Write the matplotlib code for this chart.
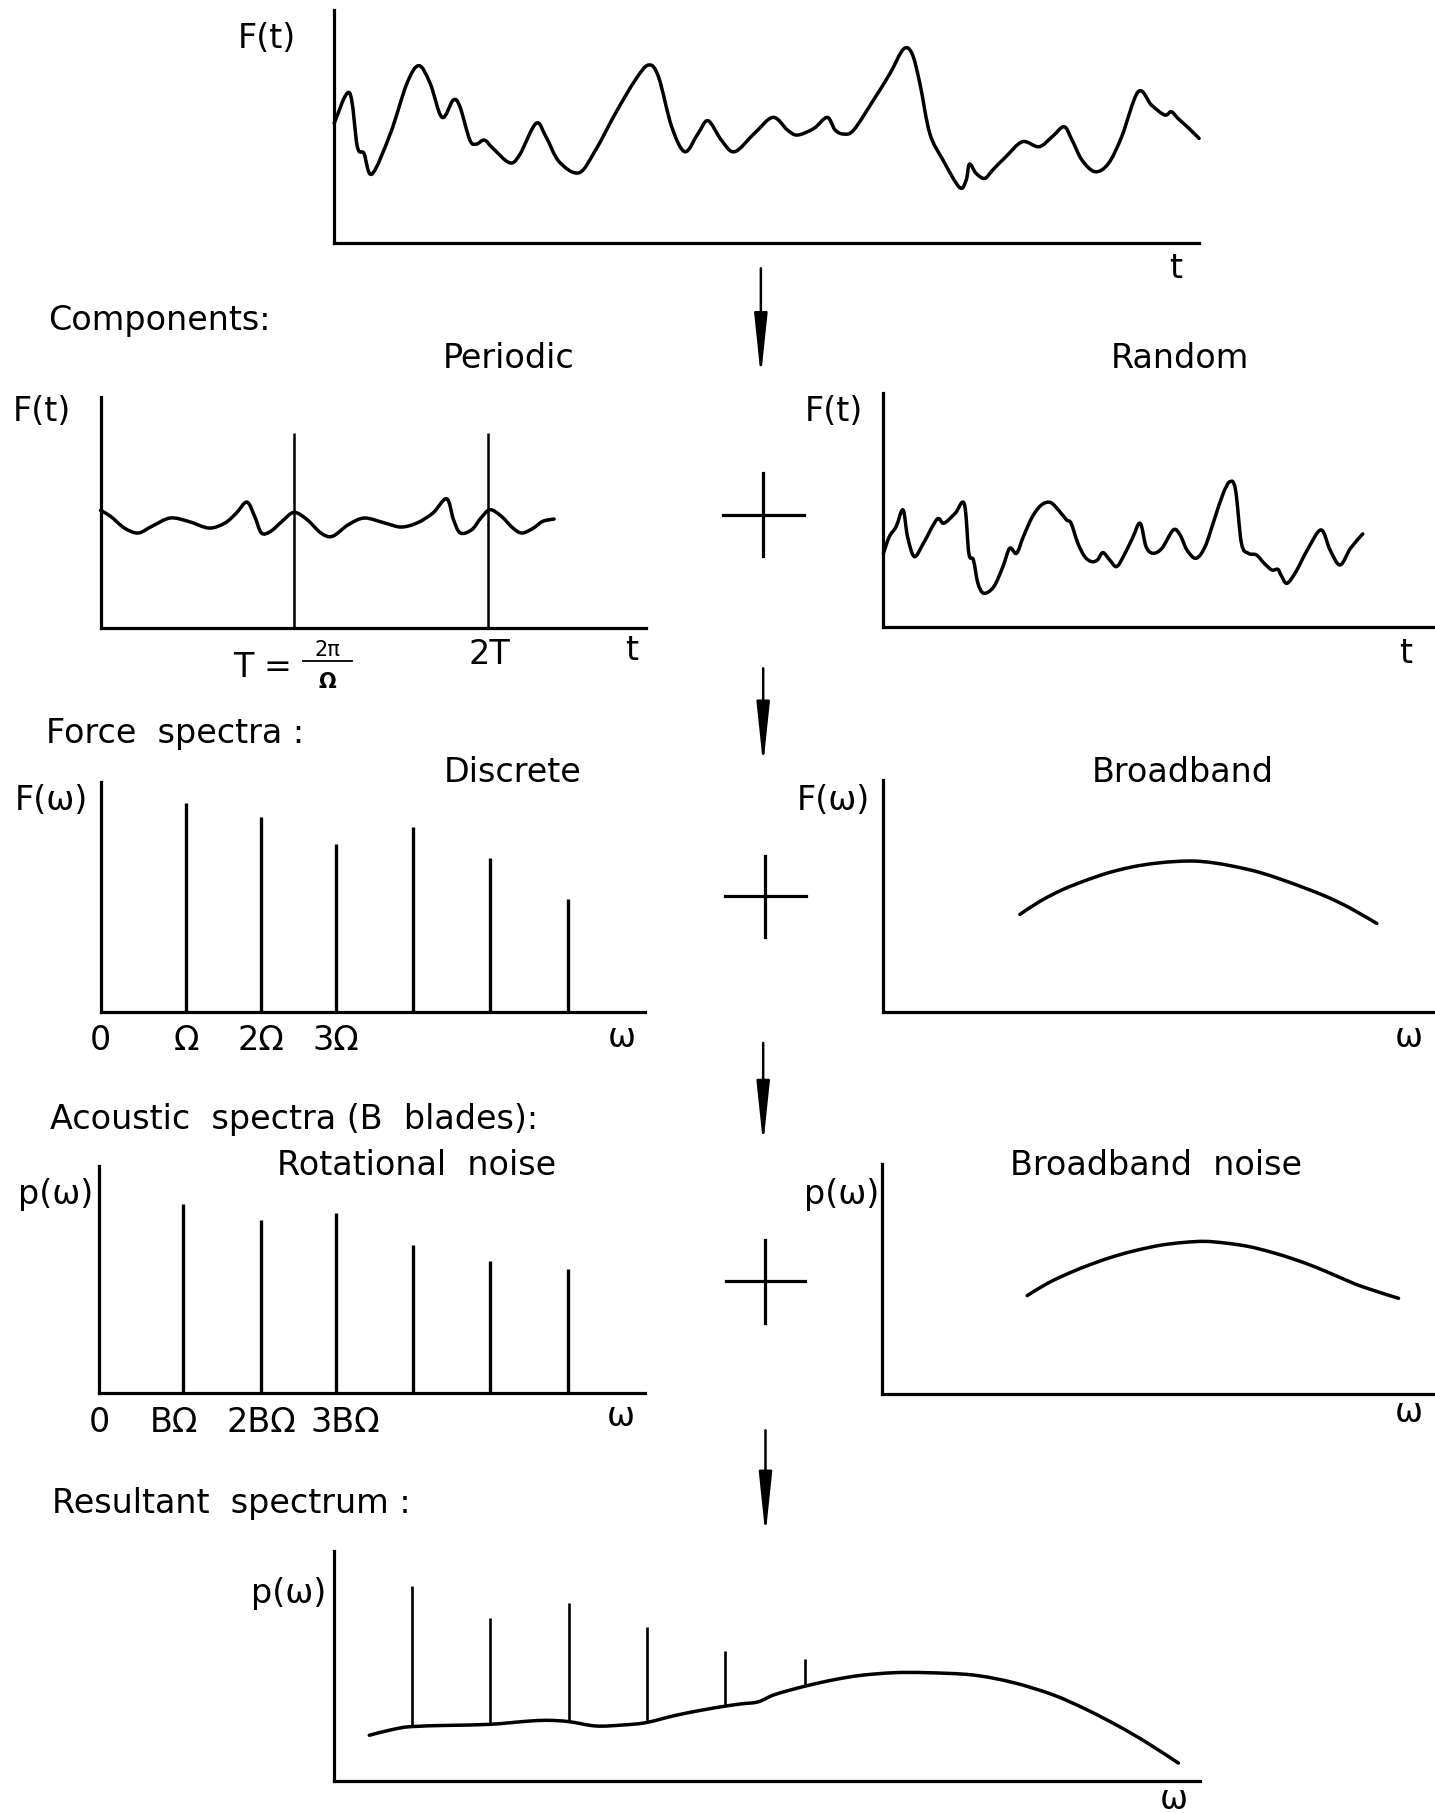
import numpy as np
import matplotlib
matplotlib.use("Agg")
import matplotlib.pyplot as plt
from matplotlib.lines import Line2D
from matplotlib.patches import FancyArrowPatch, PathPatch
from matplotlib.path import Path

# ------------------------------------------------------------------
# Data (sketch units: x along each axis, y = height above the axis)
# ------------------------------------------------------------------
# Total blade force F(t)
total_t = [0, 23, 35, 45, 57, 85, 110, 128, 145, 163, 180, 190, 205, 215, 227,
           240, 265, 280, 305, 320, 340, 370, 395, 425, 455, 475, 490, 510, 530,
           550, 565, 585, 605, 635, 663, 685, 700, 725, 745, 757, 770, 785, 815,
           840, 860, 873, 885, 900, 920, 945, 955, 960, 970, 983, 995, 1015, 1040,
           1065, 1085, 1103, 1115, 1130, 1150, 1170, 1190, 1215, 1235, 1255, 1265,
           1275, 1290, 1307]
total_f = [358, 450, 288, 268, 206, 328, 478, 531, 478, 376, 428, 408, 308, 296,
           308, 283, 240, 263, 358, 318, 243, 210, 278, 388, 488, 533, 498, 348,
           273, 328, 366, 308, 273, 328, 376, 338, 323, 343, 376, 338, 326, 338,
           428, 508, 580, 568, 478, 328, 248, 166, 188, 236, 208, 193, 218, 258,
           303, 288, 318, 348, 308, 248, 213, 238, 318, 453, 413, 383, 393, 373,
           346, 313]

# Periodic component
periodic_t = [0, 22, 52, 82, 112, 152, 192, 237, 272, 297, 320, 337, 352, 372,
              397, 423, 452, 482, 507, 542, 577, 622, 657, 692, 727, 757, 772,
              787, 812, 832, 852, 877, 902, 922, 947, 967, 992]
periodic_f = [353, 335, 300, 285, 305, 330, 320, 300, 315, 345, 378, 335, 285,
              290, 320, 347, 325, 285, 275, 310, 330, 315, 303, 315, 345, 388,
              325, 285, 295, 330, 355, 335, 300, 285, 300, 320, 327]
period_marks = [423, 848]
period_labels = ["T", "2T"]

# Random component
random_t = [0, 13, 28, 43, 53, 68, 88, 118, 133, 158, 178, 188, 198, 208, 221,
            243, 263, 278, 293, 308, 328, 348, 368, 388, 403, 413, 428, 443, 458,
            471, 483, 498, 513, 528, 548, 565, 578, 593, 613, 638, 653, 668, 688,
            708, 728, 748, 763, 775, 788, 803, 821, 838, 855, 868, 875, 888, 908,
            933, 963, 983, 1005, 1028, 1055]
random_f = [220, 270, 300, 350, 270, 210, 250, 322, 310, 340, 368, 220, 200,
            130, 100, 120, 180, 235, 220, 270, 330, 365, 372, 345, 320, 310, 250,
            210, 195, 200, 222, 200, 180, 210, 265, 310, 240, 220, 235, 290, 275,
            230, 205, 240, 320, 400, 435, 410, 250, 220, 215, 190, 170, 172, 155,
            130, 165, 230, 290, 230, 185, 235, 278]

# Discrete force spectrum (harmonics of shaft frequency)
force_harm_w = [182, 347, 513, 684, 853, 1026]
force_harm_amp = [629, 585, 505, 557, 461, 340]
force_tick_labels = ["0", "Ω", "2Ω", "3Ω"]

# Broadband force spectrum
force_bb_w = [300, 345, 395, 445, 495, 545, 595, 645, 685, 725, 775, 825, 875,
              925, 975, 1025, 1085]
force_bb_amp = [292, 332, 367, 394, 417, 434, 445, 451, 452, 447, 435, 419, 397,
                372, 345, 312, 265]

# Rotational noise (blade-passing harmonics)
rot_w = [177, 348, 513, 683, 853, 1025]
rot_amp = [567, 520, 542, 446, 397, 372]
rot_tick_labels = ["0", "BΩ", "2BΩ", "3BΩ"]

# Broadband noise
bbn_w = [318, 363, 413, 463, 513, 563, 613, 663, 708, 753, 803, 853, 903, 953,
         1003, 1053, 1133]
bbn_amp = [295, 332, 364, 391, 414, 432, 446, 454, 457, 452, 442, 425, 404, 379,
           350, 322, 287]

# Resultant spectrum: broadband floor plus tones
res_w = [53, 85, 115, 175, 235, 295, 325, 355, 395, 435, 470, 515, 555, 590, 615,
         640, 665, 710, 755, 795, 845, 895, 964, 1025, 1085, 1136, 1186, 1227,
         1274]
res_floor = [137, 153, 163, 167, 170, 180, 182, 178, 165, 168, 175, 197, 213,
             225, 232, 238, 260, 285, 305, 318, 326, 326, 319, 296, 259, 214,
             162, 114, 53]
tone_w = [117, 235, 355, 472, 590, 711]
tone_level = [588, 490, 537, 463, 393, 367]

# ------------------------------------------------------------------
# Figure and helpers
# ------------------------------------------------------------------
GW, GH = 1241.0, 1568.0          # layout grid
FS = 24                           # text size
AX_LW = 2.3
CURVE_LW = 2.5
LINE_LW = 2.4

plt.rcParams["font.family"] = ["DejaVu Sans"]

fig = plt.figure(figsize=(14.35, 18.13), dpi=100)
fig.patch.set_facecolor("white")


def fx(x):
    return x / GW


def fy(y):
    return 1 - y / GH


def panel(left, top, right, bottom, xmax, ymax):
    ax = fig.add_axes([fx(left), fy(bottom), (right - left) / GW, (bottom - top) / GH])
    ax.set_xlim(0, xmax)
    ax.set_ylim(0, ymax)
    for s in ("top", "right"):
        ax.spines[s].set_visible(False)
    for s in ("left", "bottom"):
        ax.spines[s].set_linewidth(AX_LW)
        ax.spines[s].set_capstyle("projecting")
    ax.set_xticks([])
    ax.set_yticks([])
    ax.patch.set_alpha(0)
    return ax


def smooth_curve(ax, xs, ys, lw=CURVE_LW):
    """Draw a hand-sketched curve through the points as cubic Bezier pieces."""
    p = np.column_stack([xs, ys]).astype(float)
    ext = np.vstack([p[0], p, p[-1]])
    verts = [p[0]]
    codes = [Path.MOVETO]
    for i in range(len(p) - 1):
        p0, p1, p2, p3 = ext[i], ext[i + 1], ext[i + 2], ext[i + 3]
        verts += [p1 + (p2 - p0) / 6.0, p2 - (p3 - p1) / 6.0, p2]
        codes += [Path.CURVE4] * 3
    ax.add_patch(PathPatch(Path(verts, codes), fill=False, lw=lw, ec="black",
                           capstyle="round", joinstyle="round", clip_on=False))


def label(x, y, s, ha="center", size=FS, **kw):
    fig.text(fx(x), fy(y), s, ha=ha, va="center", fontsize=size, color="black", **kw)


def plus(xc, yc, half_w, half_h):
    fig.add_artist(Line2D([fx(xc - half_w), fx(xc + half_w)], [fy(yc), fy(yc)],
                          transform=fig.transFigure, color="black", lw=2.3))
    fig.add_artist(Line2D([fx(xc), fx(xc)], [fy(yc - half_h), fy(yc + half_h)],
                          transform=fig.transFigure, color="black", lw=2.3))


def down_arrow(x, y0, y1):
    arr = FancyArrowPatch((fx(x), fy(y0)), (fx(x), fy(y1)),
                          transform=fig.transFigure,
                          arrowstyle="-|>,head_length=3.8,head_width=0.4",
                          mutation_scale=10, lw=1.8, color="black",
                          shrinkA=0, shrinkB=0)
    fig.add_artist(arr)


def freq_ticks(ax, positions, labels):
    ax.set_xticks(positions, labels)
    ax.tick_params(axis="x", length=0, pad=9, labelsize=FS)


# ------------------------------------------------------------------
# Row 1: total force
# ------------------------------------------------------------------
ax1 = panel(289, 8.6, 1037, 210, 1307, 698)
smooth_curve(ax1, total_t, total_f)
label(231, 33, "F(t)")
label(1017, 232, "t")

# ------------------------------------------------------------------
# Row 2: components
# ------------------------------------------------------------------
label(42, 277, "Components:", ha="left")
label(440, 310, "Periodic")
label(1020, 310, "Random")

ax2 = panel(87, 343, 559, 543, 1194, 695)
smooth_curve(ax2, periodic_t, periodic_f)
ax2.vlines(period_marks, 0, 585, color="black", lw=1.8)
label(36, 356, "F(t)")
label(546, 563, "t")
label(423, 566, period_labels[1])
label(227, 577, period_labels[0] + " =")
label(283, 562, "2π", size=15)
label(283, 590, "Ω", size=15, fontweight="bold")
fig.add_artist(Line2D([fx(262), fx(304)], [fy(572), fy(572)],
                      transform=fig.transFigure, color="black", lw=1.3))

ax3 = panel(764, 340, 1241, 542, 1214, 700)
smooth_curve(ax3, random_t, random_f)
label(721, 356, "F(t)")
label(1216, 565, "t")

plus(660, 445, 35, 36)
down_arrow(658, 232, 326)

# ------------------------------------------------------------------
# Row 3: force spectra
# ------------------------------------------------------------------
label(40, 634, "Force  spectra :", ha="left")
label(443, 668, "Discrete")
label(1023, 668, "Broadband")

ax4 = panel(87, 676, 558, 875, 1197, 692)
ax4.vlines(force_harm_w, 0, force_harm_amp, color="black", lw=LINE_LW)
freq_ticks(ax4, [-8] + force_harm_w[:3], force_tick_labels)
label(44, 692, "F(ω)")
label(538, 897, "ω")

ax5 = panel(764, 675, 1241, 875, 1213, 694)
smooth_curve(ax5, force_bb_w, force_bb_amp)
label(721, 692, "F(ω)")
label(1218, 897, "ω")

plus(662, 775, 35, 35)
down_arrow(660, 578, 662)

# ------------------------------------------------------------------
# Row 4: acoustic spectra
# ------------------------------------------------------------------
label(43, 968, "Acoustic  spectra (B  blades):", ha="left")
label(360, 1008, "Rotational  noise")
label(1000, 1008, "Broadband  noise")

ax6 = panel(86, 1008, 558, 1205, 1195, 684)
ax6.vlines(rot_w, 0, rot_amp, color="black", lw=LINE_LW)
freq_ticks(ax6, [-8] + [rot_w[0] - 20, rot_w[1], rot_w[2] + 20], rot_tick_labels)
label(48, 1033, "p(ω)")
label(537, 1225, "ω")

ax7 = panel(763, 1007, 1241, 1206, 1213, 687)
smooth_curve(ax7, bbn_w, bbn_amp)
label(728, 1033, "p(ω)")
label(1218, 1222, "ω")

plus(662, 1108, 34, 36)
down_arrow(660, 902, 990)

# ------------------------------------------------------------------
# Row 5: resultant spectrum
# ------------------------------------------------------------------
label(45, 1300, "Resultant  spectrum :", ha="left")
down_arrow(662, 1237, 1328)

ax8 = panel(289, 1341, 1038, 1540, 1307, 695)
smooth_curve(ax8, res_w, res_floor)
tone_base = np.interp(tone_w, res_w, res_floor)
ax8.vlines(tone_w, tone_base, tone_level, color="black", lw=1.9)
label(250, 1378, "p(ω)")
label(1015, 1556, "ω")

fig.savefig("out.png", dpi=100, facecolor="white")
